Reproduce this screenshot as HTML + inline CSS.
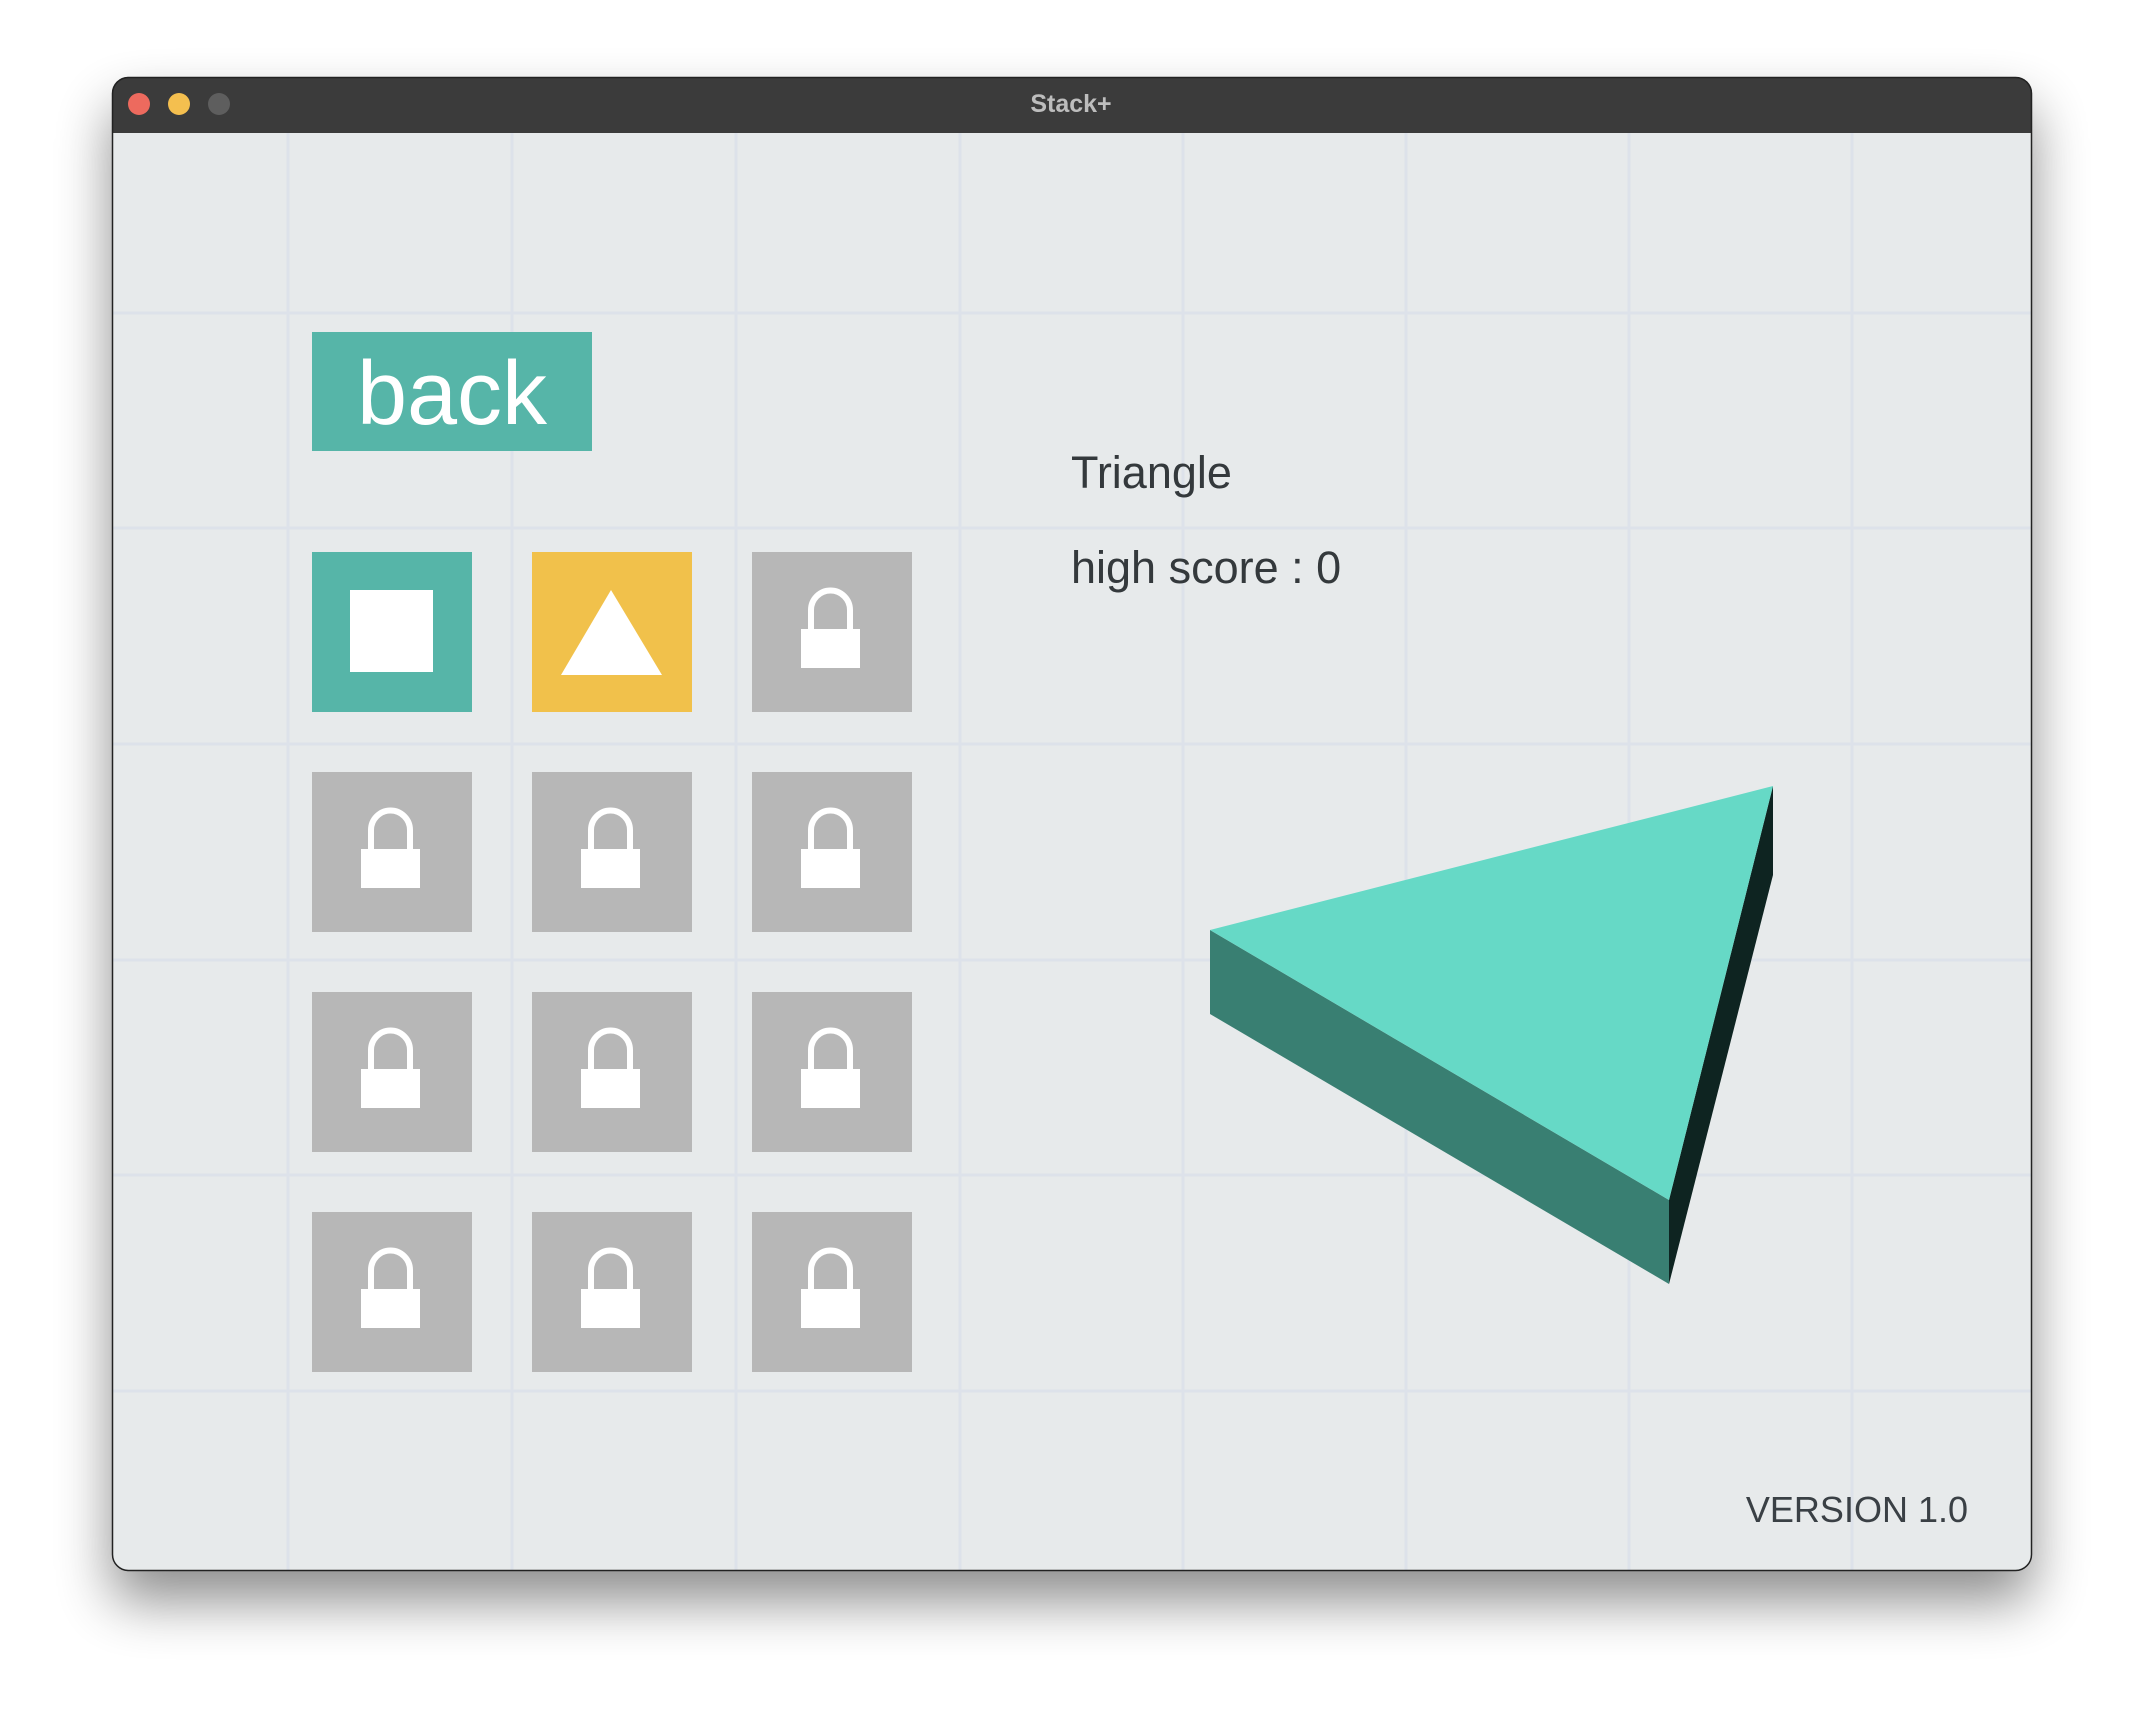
<!DOCTYPE html>
<html><head><meta charset="utf-8"><style>
html,body{margin:0;padding:0;background:#fff;width:2144px;height:1720px;overflow:hidden}
svg{display:block}
</style></head><body>
<svg width="2144" height="1720" viewBox="0 0 2144 1720" xmlns="http://www.w3.org/2000/svg">
<defs>
<filter id="sh" x="-10%" y="-10%" width="120%" height="125%">
<feGaussianBlur in="SourceAlpha" stdDeviation="28"/>
<feOffset dy="30"/>
<feComponentTransfer><feFuncA type="linear" slope="0.45"/></feComponentTransfer>
<feMerge><feMergeNode/><feMergeNode in="SourceGraphic"/></feMerge>
</filter>
<clipPath id="win"><rect x="112" y="77" width="1920" height="1494" rx="16"/></clipPath>
<g id="lock">
<rect x="49" y="77" width="59" height="39" fill="#fff"/>
<path d="M59 80 V58 A19.5 19.5 0 0 1 98 58 V80" fill="none" stroke="#fff" stroke-width="6"/>
</g>
</defs>
<rect x="112" y="77" width="1920" height="1494" rx="16" fill="#e7eaeb" filter="url(#sh)"/>
<g clip-path="url(#win)">
<rect x="112" y="77" width="1920" height="1494" fill="#e7eaeb"/>
<g stroke="#dde2ea" stroke-width="3">
<line x1="288" y1="133" x2="288" y2="1571"/>
<line x1="512" y1="133" x2="512" y2="1571"/>
<line x1="736" y1="133" x2="736" y2="1571"/>
<line x1="960" y1="133" x2="960" y2="1571"/>
<line x1="1183" y1="133" x2="1183" y2="1571"/>
<line x1="1406" y1="133" x2="1406" y2="1571"/>
<line x1="1629" y1="133" x2="1629" y2="1571"/>
<line x1="1852" y1="133" x2="1852" y2="1571"/>
<line x1="112" y1="313" x2="2032" y2="313"/>
<line x1="112" y1="528" x2="2032" y2="528"/>
<line x1="112" y1="744" x2="2032" y2="744"/>
<line x1="112" y1="960" x2="2032" y2="960"/>
<line x1="112" y1="1175" x2="2032" y2="1175"/>
<line x1="112" y1="1391" x2="2032" y2="1391"/>
</g>
<rect x="112" y="77" width="1920" height="56" fill="#3b3b3b"/>
</g>
<rect x="112.5" y="77.5" width="1919" height="1493" rx="16" fill="none" stroke="#222" stroke-width="1.5"/>
<circle cx="139" cy="104" r="11" fill="#ed6a5e"/>
<circle cx="179" cy="104" r="11" fill="#f4bf4f"/>
<circle cx="219" cy="104" r="11" fill="#5e5e5e"/>
<text x="1071" y="112" text-anchor="middle" font-family="Liberation Sans, sans-serif" font-weight="bold" font-size="25" fill="#bdbdbd">Stack+</text>

<rect x="312" y="332" width="280" height="119" fill="#56b5a8"/>
<text x="452" y="424" text-anchor="middle" font-family="Liberation Sans, sans-serif" font-size="90" fill="#fff">back</text>

<g transform="translate(312,552)"><rect width="160" height="160" fill="#56b5a8"/><rect x="38" y="38" width="83" height="82" fill="#fff"/></g>
<g transform="translate(532,552)"><rect width="160" height="160" fill="#f1c14b"/><polygon points="79,38 29,123 130,123" fill="#fff"/></g>
<g transform="translate(752,552)"><rect width="160" height="160" fill="#b7b7b7"/><use href="#lock"/></g>
<g transform="translate(312,772)"><rect width="160" height="160" fill="#b7b7b7"/><use href="#lock"/></g>
<g transform="translate(532,772)"><rect width="160" height="160" fill="#b7b7b7"/><use href="#lock"/></g>
<g transform="translate(752,772)"><rect width="160" height="160" fill="#b7b7b7"/><use href="#lock"/></g>
<g transform="translate(312,992)"><rect width="160" height="160" fill="#b7b7b7"/><use href="#lock"/></g>
<g transform="translate(532,992)"><rect width="160" height="160" fill="#b7b7b7"/><use href="#lock"/></g>
<g transform="translate(752,992)"><rect width="160" height="160" fill="#b7b7b7"/><use href="#lock"/></g>
<g transform="translate(312,1212)"><rect width="160" height="160" fill="#b7b7b7"/><use href="#lock"/></g>
<g transform="translate(532,1212)"><rect width="160" height="160" fill="#b7b7b7"/><use href="#lock"/></g>
<g transform="translate(752,1212)"><rect width="160" height="160" fill="#b7b7b7"/><use href="#lock"/></g>

<text x="1071" y="488" font-family="Liberation Sans, sans-serif" font-size="45" fill="#34393c">Triangle</text>
<text x="1071" y="583" font-family="Liberation Sans, sans-serif" font-size="45" fill="#34393c">high score : 0</text>

<polygon points="1210,930 1669,1200 1669,1284 1210,1014" fill="#397f72"/>
<polygon points="1669,1200 1773,786 1773,875 1669,1284" fill="#0e2421"/>
<polygon points="1210,930 1773,786 1669,1200" fill="#66d9c6"/>

<text x="1968" y="1522" text-anchor="end" font-family="Liberation Sans, sans-serif" font-size="36" fill="#3a4045">VERSION 1.0</text>
</svg>
</body></html>
